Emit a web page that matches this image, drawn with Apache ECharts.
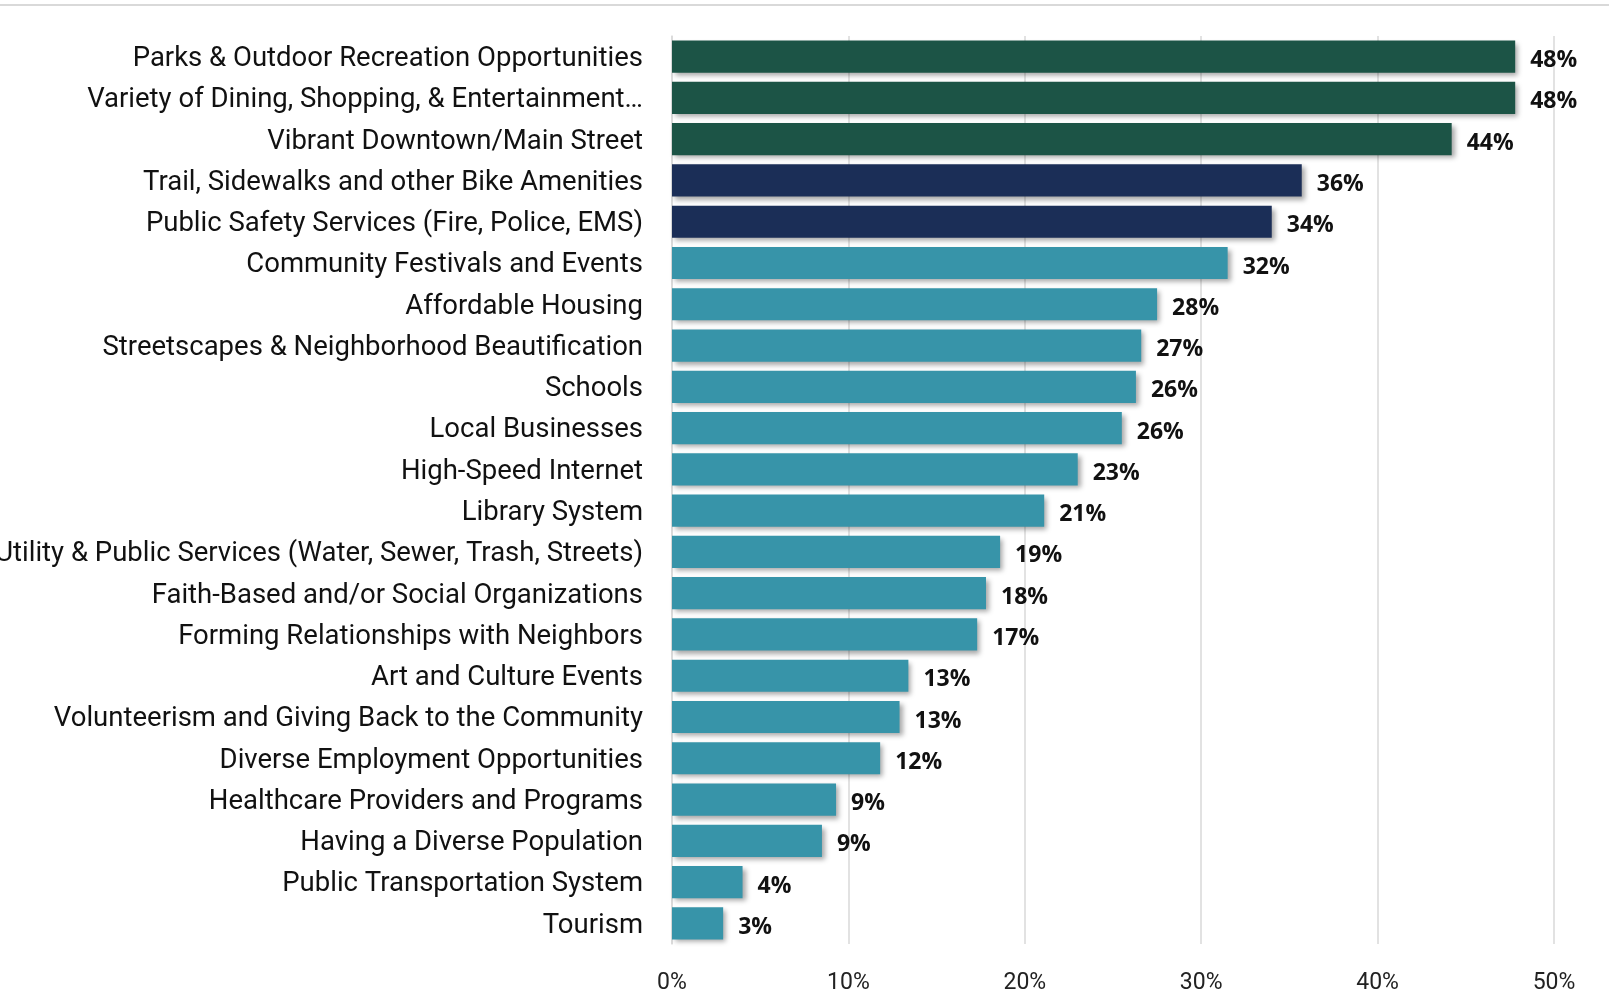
<!DOCTYPE html>
<html>
<head>
<meta charset="utf-8">
<script src="https://cdn.jsdelivr.net/npm/echarts@6/dist/echarts.min.js"></script>
<style>
  html, body { margin: 0; padding: 0; background: #fff; }
  #chart { width: 1609px; height: 1004px; }
</style>
</head>
<body>
<div id="chart"></div>
<script>
// categories, top to bottom
var categories = [
  "Parks & Outdoor Recreation Opportunities",
  "Variety of Dining, Shopping, & Entertainment…",
  "Vibrant Downtown/Main Street",
  "Trail, Sidewalks and other Bike Amenities",
  "Public Safety Services (Fire, Police, EMS)",
  "Community Festivals and Events",
  "Affordable Housing",
  "Streetscapes & Neighborhood Beautification",
  "Schools",
  "Local Businesses",
  "High-Speed Internet",
  "Library System",
  "Utility & Public Services (Water, Sewer, Trash, Streets)",
  "Faith-Based and/or Social Organizations",
  "Forming Relationships with Neighbors",
  "Art and Culture Events",
  "Volunteerism and Giving Back to the Community",
  "Diverse Employment Opportunities",
  "Healthcare Providers and Programs",
  "Having a Diverse Population",
  "Public Transportation System",
  "Tourism"
];
// percent of respondents
var values = [47.8, 47.8, 44.2, 35.7, 34.0, 31.5, 27.5, 26.6, 26.3, 25.5, 23.0, 21.1,
  18.6, 17.8, 17.3, 13.4, 12.9, 11.8, 9.3, 8.5, 4.0, 2.9];
// colour group per bar: 0 = green, 1 = navy, 2 = teal
var groups = [0, 0, 0, 1, 1, 2, 2, 2, 2, 2, 2, 2, 2, 2, 2, 2, 2, 2, 2, 2, 2, 2];
var groupColors = ["#1c5446", "#1b2e57", "#3794a9"];
var xTicks = [0, 10, 20, 30, 40, 50];

var chart = echarts.init(document.getElementById("chart"));

var option = {
  animation: false,
  graphic: [
    {
      type: "line",
      shape: { x1: 0, y1: 5, x2: 1609, y2: 5 },
      style: { stroke: "#d9d9d9", lineWidth: 2 }
    }
  ],
  grid: {
    left: 672,
    right: 55,
    top: 36,
    bottom: 60,
    containLabel: false,
    outerBoundsMode: "none"
  },
  xAxis: {
    type: "value",
    min: xTicks[0],
    max: xTicks[xTicks.length - 1],
    interval: 10,
    axisLine: { show: false },
    axisTick: { show: false },
    axisLabel: {
      formatter: "{value}%",
      color: "#222",
      fontFamily: "Roboto",
      fontSize: 23,
      margin: 28
    },
    splitLine: {
      show: true,
      lineStyle: { color: "#d9d9d9", width: 1.5 }
    }
  },
  yAxis: {
    type: "category",
    data: categories,
    inverse: true,
    axisLine: { show: true, lineStyle: { color: "#d9d9d9", width: 1.5 } },
    axisTick: { show: false },
    axisLabel: {
      margin: 29,
      formatter: function (v) {
        return "{a|" + v + "}";
      },
      rich: {
        a: {
          color: "#111",
          fontFamily: "Roboto",
          fontSize: 27.5,
          padding: [5, 0, 0, 0]
        }
      }
    }
  },
  series: [
    {
      type: "bar",
      barCategoryGap: "22%",
      data: values.map(function (v, i) {
        return { value: v, itemStyle: { color: groupColors[groups[i]] } };
      }),
      itemStyle: {
        shadowColor: "rgba(0,0,0,0.35)",
        shadowBlur: 5,
        shadowOffsetX: 3,
        shadowOffsetY: 3
      },
      label: {
        show: true,
        position: "right",
        distance: 15,
        formatter: function (p) {
          return "{b|" + Math.round(p.value) + "%}";
        },
        rich: {
          b: {
            color: "#111",
            fontFamily: "Open Sans",
            fontWeight: "bold",
            fontSize: 23,
            padding: [8, 0, 0, 0]
          }
        }
      }
    }
  ]
};

chart.setOption(option);
</script>
</body>
</html>
